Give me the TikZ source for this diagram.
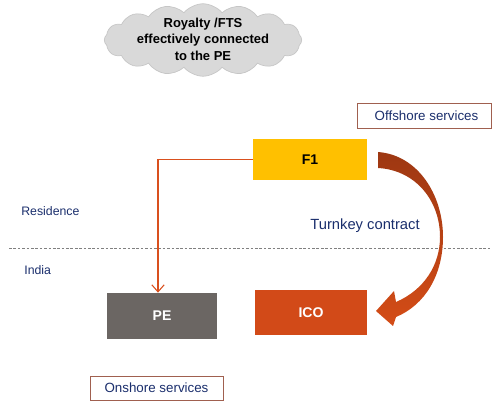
\documentclass[tikz,border=0pt]{standalone}
\usepackage{fontspec}
\setmainfont{Liberation Sans}
\usepackage{xcolor}
\usetikzlibrary{shapes.symbols, arrows.meta, positioning}

\definecolor{navy}{HTML}{1A2E6C}
\definecolor{gold}{HTML}{FFC000}
\definecolor{peGray}{HTML}{6B6663}
\definecolor{icoRed}{HTML}{D24A18}
\definecolor{lineRed}{HTML}{D9501E}
\definecolor{frameBrown}{HTML}{A0604F}

\tikzset{
  entity/.style={rectangle, font=\fontsize{8}{9}\selectfont\bfseries, inner sep=0pt},
  tag/.style={rectangle, draw=frameBrown, line width=0.5pt, text=navy,
    font=\fontsize{7.6}{9}\selectfont, inner sep=0pt},
  side/.style={text=navy, font=\fontsize{7}{8}\selectfont, anchor=west, inner sep=0pt}
}

\begin{document}
\begin{tikzpicture}[x=0.02cm, y=-0.02cm]
  \useasboundingbox (0,0) rectangle (500,408);
  % cloud
  \node[cloud, cloud puffs=16, cloud puff arc=100, aspect=2.8, fill=gray!30, draw=gray!45,
    inner sep=0pt, minimum width=3.95cm, minimum height=1.45cm] (royaltyCloud) at (203,40) {};
  \node[align=center, inner sep=0pt, font=\fontsize{7.4}{9.4}\selectfont\bfseries]
    (royalty) at (203,39) {Royalty /FTS\\effectively connected\\to the PE};
  % boxes
  \node[entity, fill=gold, minimum width=2.28cm, minimum height=0.82cm] (F1) at (310,159.5) {F1};
  \node[entity, fill=peGray, text=white, minimum width=2.2cm, minimum height=0.92cm] (PE) at (162,316) {PE};
  \node[entity, fill=icoRed, text=white, minimum width=2.24cm, minimum height=0.9cm] (ICO) at (311,312.5) {ICO};
  \node[tag, minimum width=2.68cm, minimum height=0.5cm] (offshore) at (424,115.5) {\hspace{0.1cm}Offshore services};
  \node[tag, minimum width=2.66cm, minimum height=0.48cm] (onshore) at (156.5,388) {Onshore services};
  % labels
  \node[side] (residence) at (21,211) {Residence};
  \node[side] (india) at (24,270) {India};
  \node[text=navy, font=\fontsize{8.4}{10}\selectfont, inner sep=0pt] (turnkey) at (365,226) {Turnkey contract};
  % border line
  \coordinate (borderL) at (9,248);
  \coordinate (borderR) at (490,248);
  \draw[gray, line width=0.5pt, dash pattern=on 1.5pt off 1pt] (borderL) -- (borderR);
  % connector F1 -> PE
  \draw[lineRed, line width=0.6pt, -{Straight Barb[length=4pt, width=7pt]}]
    (F1.west) -| ([xshift=-0.08cm]PE.north);
  % turnkey arrow
  \shade[top color=icoRed!75!black, bottom color=icoRed!95!orange, shading angle=0]
    (378,152) .. controls (418,155) and (443,195) .. (443,237)
    .. controls (443,275) and (425,305) .. (396,317)
    -- (393,326) -- (376,311) -- (394,291) -- (396,302)
    .. controls (424,290) and (440,265) .. (440,237)
    .. controls (440,200) and (415,170) .. (378,168) -- cycle;
\end{tikzpicture}
\end{document}
